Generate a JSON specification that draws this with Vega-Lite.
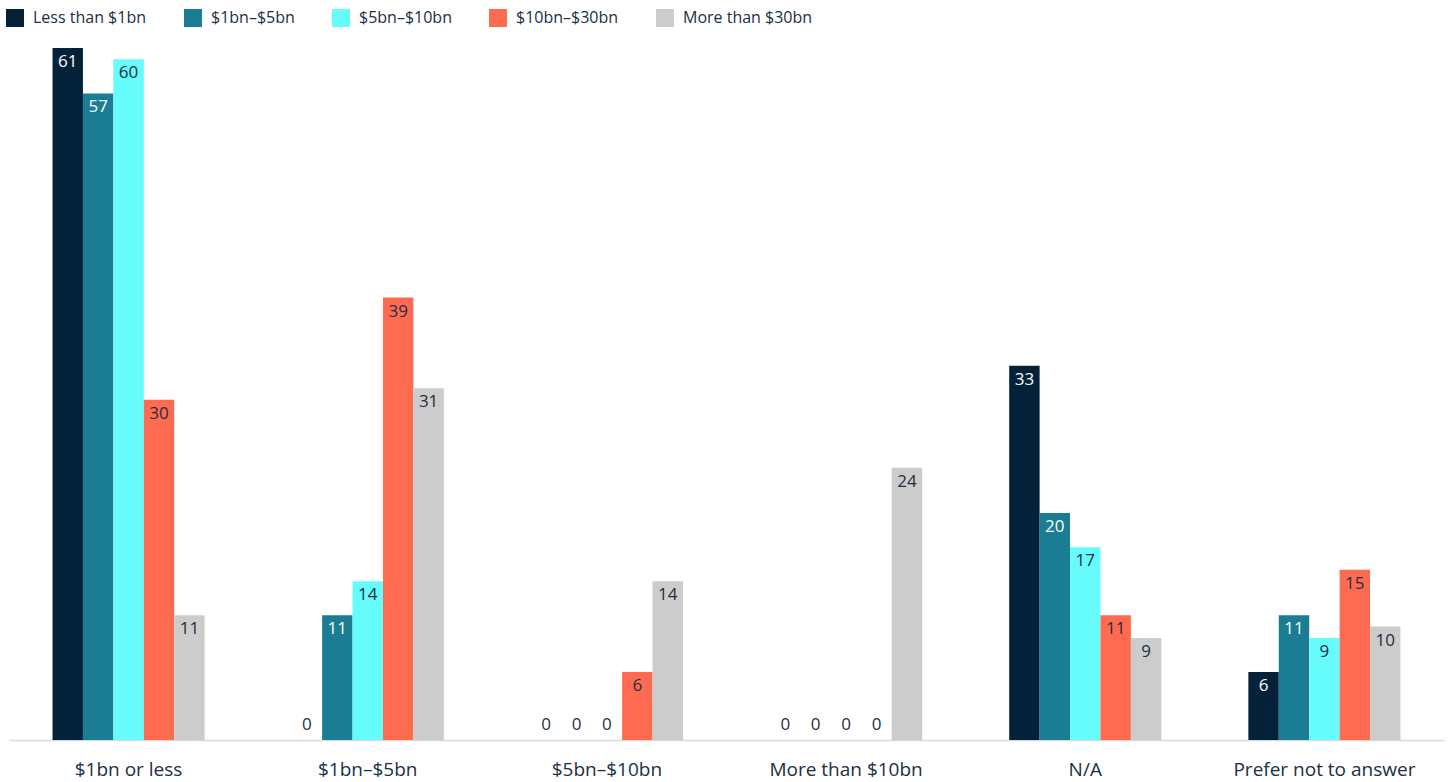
{
  "$schema": "https://vega.github.io/schema/vega-lite/v6.json",
  "autosize": {"type": "none"},
  "width": 1435,
  "height": 692,
  "padding": {"left": 9, "top": 48, "right": 6, "bottom": 42},
  "background": "white",
  "config": {
    "font": "Open Sans",
    "view": {"stroke": null}
  },
  "data": {
    "values": [
      {"cat": "$1bn or less", "series": "Less than $1bn", "v": 61},
      {"cat": "$1bn or less", "series": "$1bn–$5bn", "v": 57},
      {"cat": "$1bn or less", "series": "$5bn–$10bn", "v": 60},
      {"cat": "$1bn or less", "series": "$10bn–$30bn", "v": 30},
      {"cat": "$1bn or less", "series": "More than $30bn", "v": 11},
      {"cat": "$1bn–$5bn", "series": "Less than $1bn", "v": 0},
      {"cat": "$1bn–$5bn", "series": "$1bn–$5bn", "v": 11},
      {"cat": "$1bn–$5bn", "series": "$5bn–$10bn", "v": 14},
      {"cat": "$1bn–$5bn", "series": "$10bn–$30bn", "v": 39},
      {"cat": "$1bn–$5bn", "series": "More than $30bn", "v": 31},
      {"cat": "$5bn–$10bn", "series": "Less than $1bn", "v": 0},
      {"cat": "$5bn–$10bn", "series": "$1bn–$5bn", "v": 0},
      {"cat": "$5bn–$10bn", "series": "$5bn–$10bn", "v": 0},
      {"cat": "$5bn–$10bn", "series": "$10bn–$30bn", "v": 6},
      {"cat": "$5bn–$10bn", "series": "More than $30bn", "v": 14},
      {"cat": "More than $10bn", "series": "Less than $1bn", "v": 0},
      {"cat": "More than $10bn", "series": "$1bn–$5bn", "v": 0},
      {"cat": "More than $10bn", "series": "$5bn–$10bn", "v": 0},
      {"cat": "More than $10bn", "series": "$10bn–$30bn", "v": 0},
      {"cat": "More than $10bn", "series": "More than $30bn", "v": 24},
      {"cat": "N/A", "series": "Less than $1bn", "v": 33},
      {"cat": "N/A", "series": "$1bn–$5bn", "v": 20},
      {"cat": "N/A", "series": "$5bn–$10bn", "v": 17},
      {"cat": "N/A", "series": "$10bn–$30bn", "v": 11},
      {"cat": "N/A", "series": "More than $30bn", "v": 9},
      {"cat": "Prefer not to answer", "series": "Less than $1bn", "v": 6},
      {"cat": "Prefer not to answer", "series": "$1bn–$5bn", "v": 11},
      {"cat": "Prefer not to answer", "series": "$5bn–$10bn", "v": 9},
      {"cat": "Prefer not to answer", "series": "$10bn–$30bn", "v": 15},
      {"cat": "Prefer not to answer", "series": "More than $30bn", "v": 10}
    ]
  },
  "encoding": {
    "x": {
      "field": "cat", "type": "nominal", "sort": null,
      "scale": {"paddingInner": 0.364, "paddingOuter": 0.182},
      "axis": {
        "title": null, "labelAngle": 0, "ticks": false,
        "labelFontSize": 19, "labelColor": "#1b2f45", "labelPadding": 20,
        "labelLimit": 400, "labelOverlap": false, "labelBound": false,
        "domainColor": "#d9d9d9", "domainWidth": 1.5, "grid": false
      }
    },
    "xOffset": {
      "field": "series", "type": "nominal",
      "sort": ["Less than $1bn", "$1bn–$5bn", "$5bn–$10bn", "$10bn–$30bn", "More than $30bn"],
      "scale": {"paddingInner": 0, "paddingOuter": 0}
    },
    "y": {
      "field": "v", "type": "quantitative",
      "scale": {"domain": [0, 61], "nice": false},
      "axis": null
    }
  },
  "layer": [
    {
      "mark": {"type": "bar"},
      "encoding": {
        "color": {
          "field": "series", "type": "nominal",
          "sort": ["Less than $1bn", "$1bn–$5bn", "$5bn–$10bn", "$10bn–$30bn", "More than $30bn"],
          "scale": {
            "domain": ["Less than $1bn", "$1bn–$5bn", "$5bn–$10bn", "$10bn–$30bn", "More than $30bn"],
            "range": ["#03223a", "#1a7d94", "#66fcfc", "#ff6b50", "#cccccc"]
          },
          "legend": {
            "title": null, "orient": "none", "direction": "horizontal",
            "legendX": -3, "legendY": -39,
            "symbolType": "square", "symbolSize": 324, "symbolStrokeWidth": 0,
            "symbolOpacity": 1,
            "labelFontSize": 16, "labelColor": "#1b2f45", "labelOffset": 9,
            "columnPadding": 37, "symbolOffset": 0
          }
        }
      }
    },
    {
      "transform": [{"filter": "datum.v > 0"}],
      "mark": {"type": "text", "baseline": "middle", "dy": 14, "fontSize": 17},
      "encoding": {
        "text": {"field": "v", "type": "quantitative"},
        "color": {
          "condition": {"test": "datum.series === 'Less than $1bn' || datum.series === '$1bn–$5bn'", "value": "#ffffff"},
          "value": "#1b2f45"
        }
      }
    },
    {
      "transform": [{"filter": "datum.v == 0"}],
      "mark": {"type": "text", "baseline": "middle", "dy": -15, "fontSize": 17, "color": "#1b2f45"},
      "encoding": {
        "text": {"field": "v", "type": "quantitative"}
      }
    }
  ]
}
